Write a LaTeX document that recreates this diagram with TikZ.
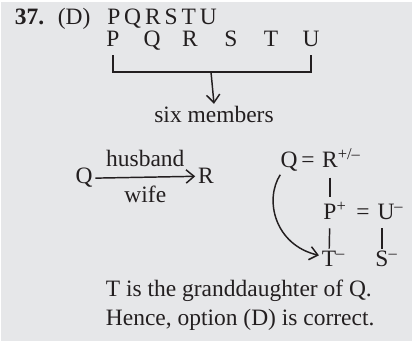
\documentclass[tikz,border=0pt]{standalone}
\usepackage{fontspec}
\setmainfont{Liberation Serif}
\usetikzlibrary{arrows.meta}
\definecolor{panel}{HTML}{E6E7E9}
\definecolor{ink}{HTML}{231F20}

\begin{document}
\begin{tikzpicture}[x=0.75pt,y=-0.75pt,
  txt/.style={text=ink,font=\fontsize{17.6}{21}\selectfont,inner sep=2pt},
  link/.style={draw=ink,line width=1.1pt},
  tip/.style={link,-{Straight Barb[length=6pt,width=10pt,line width=1.1pt]}}]
\fill[white] (0,0) rectangle (412,341);
\fill[panel] (1.5,2) rectangle (412,341);
% heading
\node[txt,anchor=base west,font=\fontsize{17.6}{21}\selectfont\bfseries] (num) at (12,25) {37.};
\node[txt,anchor=base west] (opt) at (55,25) {(D)};
\node[txt,anchor=base west,inner sep=0pt] (word) at (107,25) {P\,Q\,R\,S\,T\,U};
\foreach \l/\x [count=\k] in {P/113,Q/152,R/190,S/231,T/271,U/311} {
  \node[txt,anchor=base,inner sep=0pt] (m\k) at (\x,47) {\l};
}
\coordinate (join) at (211,72);
\draw[link] ([yshift=-6pt]m1.south) |- (join) -| ([yshift=-6pt]m6.south);
\node[txt,anchor=base] (six) at (214,123) {six members};
\draw[tip] (join) -- (six.north);
% husband and wife
\node[txt,anchor=base] (q1) at (84,184) {Q};
\node[txt,anchor=base] (r1) at (206,184) {R};
\draw[tip] (q1.east) -- (r1.west)
  node[txt,midway,above=5pt] (hus) {husband}
  node[txt,midway,below=4pt] (wif) {wife};
% family tree
\node[txt,anchor=base] (q2) at (289,168) {Q};
\node[txt,anchor=base] (e1) at (308,168) {=};
\node[txt,anchor=base] (r2) at (330,168) {R\rlap{\textsuperscript{+/–}}};
\node[txt,anchor=base] (p2) at (330,220) {P\rlap{\textsuperscript{+}}};
\node[txt,anchor=base] (e2) at (363,220) {=};
\node[txt,anchor=base] (u2) at (386,220) {U\rlap{\textsuperscript{–}}};
\node[txt,anchor=base] (t2) at (329,267) {T\rlap{\textsuperscript{–}}};
\node[txt,anchor=base] (s2) at (382,267) {S\rlap{\textsuperscript{–}}};
\draw[link,shorten <=5pt,shorten >=2pt] (r2) -- (p2);
\draw[link,shorten <=4pt] (p2) -- (t2);
\draw[link,shorten <=4pt] (s2.north |- u2.south) -- (s2.north);
\draw[tip] ([xshift=2pt]q2.south west) .. controls (264,200) and (275,245) .. ([yshift=3pt]t2.west);
% conclusion
\node[txt,anchor=base west] (end1) at (103,297) {T is the granddaughter of Q.};
\node[txt,anchor=base west] (end2) at (103,326) {Hence, option (D) is correct.};
\end{tikzpicture}
\end{document}
